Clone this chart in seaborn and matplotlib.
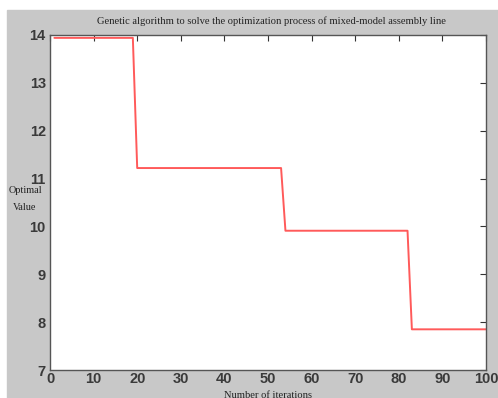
import matplotlib
matplotlib.use("Agg")
import matplotlib.pyplot as plt
from matplotlib.patches import Rectangle
import seaborn as sns
import pandas as pd

# ---------------- DATA ----------------
# breakpoints of the best-value curve (iteration, optimal value)
iterations = [1, 19, 20, 53, 54, 82, 83, 100]
optimal_value = [13.94, 13.94, 11.22, 11.22, 9.91, 9.91, 7.85, 7.85]

x_ticks = [0, 10, 20, 30, 40, 50, 60, 70, 80, 90, 100]
y_ticks = [7, 8, 9, 10, 11, 12, 13, 14]

title = "Genetic algorithm to solve the optimization process of mixed-model assembly line"
x_label = "Number of iterations"
y_label = "Optimal\nValue"

# ---------------- SETTINGS ----------------
sns.set_style("white")
plt.rcParams.update({
    "font.family": ["Liberation Sans", "DejaVu Sans"],
    "xtick.direction": "in",
    "ytick.direction": "in",
})

df = pd.DataFrame({"iteration": iterations, "value": optimal_value})

fig = plt.figure(figsize=(4.98, 3.98), dpi=100, facecolor="white")
# MATLAB-like gray figure panel
fig.patches.append(Rectangle((7 / 498, 0), 1 - 7 / 498, 1 - 10 / 398,
                             transform=fig.transFigure, color="#c8c8c8",
                             zorder=-1))

ax = fig.add_axes([50 / 498, 1 - 370 / 398, 436 / 498, 335 / 398])
ax.set_facecolor("white")

sns.lineplot(data=df, x="iteration", y="value", ax=ax,
             color="#ff5a5a", linewidth=1.4)

ax.set_xlim(0, 100)
ax.set_ylim(7, 14)
ax.set_xticks(x_ticks)
ax.set_yticks(y_ticks)
ax.set_xlabel("")
ax.set_ylabel("")

ax.tick_params(axis="both", which="both", length=4, width=0.8,
               color="#333333", labelcolor="#3a3a3a", labelsize=10.5,
               top=True, right=True)
ax.tick_params(axis="x", pad=1.5)
ax.tick_params(axis="y", pad=3)
for lab in ax.get_xticklabels() + ax.get_yticklabels():
    lab.set_fontweight("bold")

for side in ["left", "right", "top", "bottom"]:
    ax.spines[side].set_color("#555555")
    ax.spines[side].set_linewidth(1.0)

serif = ["Liberation Serif", "DejaVu Serif"]
fig.text(271 / 498, 1 - 21 / 398, title, ha="center", va="center",
         family=serif, fontsize=7.6, color="#222222")
fig.text(25 / 498, 1 - 199 / 398, y_label, ha="center", va="center",
         multialignment="center", linespacing=2.2,
         family=serif, fontsize=7.4, color="#222222")
fig.text(268 / 498, 1 - 395 / 398, x_label, ha="center", va="center",
         family=serif, fontsize=7.6, color="#222222")

fig.savefig("out.png", dpi=100, facecolor=fig.get_facecolor())
plt.close(fig)
